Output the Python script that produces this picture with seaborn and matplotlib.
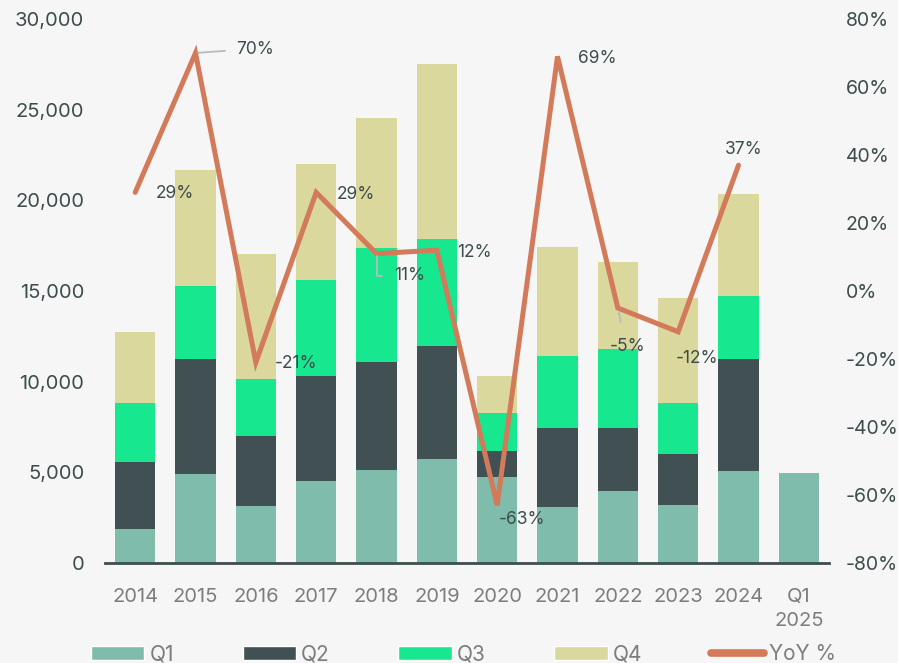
import numpy as np
import pandas as pd
import matplotlib
matplotlib.use("Agg")
import matplotlib.pyplot as plt
from matplotlib.patches import Patch
from matplotlib.lines import Line2D
from matplotlib.ticker import FuncFormatter, MultipleLocator
import seaborn as sns

# ---- data ----
categories = ["2014", "2015", "2016", "2017", "2018", "2019", "2020",
              "2021", "2022", "2023", "2024", "Q1\n2025"]
q1 = [1850, 4900, 3140, 4540, 5110, 5740, 4740, 3110, 3950, 3180, 5060, 4960]
q2 = [3740, 6340, 3850, 5790, 5980, 6210, 1440, 4360, 3510, 2810, 6200, np.nan]
q3 = [3240, 4040, 3160, 5300, 6290, 5920, 2080, 3970, 4320, 2810, 3490, np.nan]
q4 = [3930, 6370, 6900, 6400, 7150, 9640, 2080, 6010, 4820, 5810, 5590, np.nan]
yoy = [29, 70, -21, 29, 11, 12, -63, 69, -5, -12, 37]
yoy_labels = ["29%", "70%", "-21%", "29%", "11%", "12%", "-63%", "69%",
              "-5%", "-12%", "37%"]

# ---- style ----
sns.set_theme(style="white")
plt.rcParams["font.family"] = ["Inter", "DejaVu Sans"]

BG = "#f6f6f6"
C_Q1 = "#80bcac"
C_Q2 = "#415052"
C_Q3 = "#17e88f"
C_Q4 = "#dad89c"
C_LINE = "#d27a5a"
DARK_TXT = "#3d4c4c"
GRAY_TXT = "#7d7d7d"
LEADER = "#b4bcbc"
TICK_FS = 14.5

df = pd.DataFrame({"cat": categories, "Q1": q1, "Q2": q2, "Q3": q3, "Q4": q4})
df["c1"] = df["Q1"]
df["c2"] = df["c1"] + df["Q2"]
df["c3"] = df["c2"] + df["Q3"]
df["c4"] = df["c3"] + df["Q4"]

fig = plt.figure(figsize=(8.98, 6.63), dpi=100, facecolor=BG)
ax = fig.add_axes([105 / 898, 1 - 563 / 663, 724 / 898, 544 / 663])
ax.set_facecolor(BG)

# stacked columns: draw cumulative totals from the top segment down
for col, color in [("c4", C_Q4), ("c3", C_Q3), ("c2", C_Q2), ("c1", C_Q1)]:
    sns.barplot(data=df, x="cat", y=col, order=categories, color=color,
                saturation=1, width=0.67, errorbar=None, ax=ax,
                linewidth=0)

ax.set_xlim(-0.5, len(categories) - 0.5)
ax.set_ylim(0, 30000)
ax.yaxis.set_major_locator(MultipleLocator(5000))
ax.yaxis.set_major_formatter(FuncFormatter(lambda v, p: f"{v:,.0f}"))
ax.set_xlabel("")
ax.set_ylabel("")
for s in ["top", "left", "right"]:
    ax.spines[s].set_visible(False)
ax.spines["bottom"].set_color("#3f4d4f")
ax.spines["bottom"].set_linewidth(2)
ax.tick_params(axis="y", length=0, pad=15, labelsize=TICK_FS, labelcolor=DARK_TXT)
ax.tick_params(axis="x", length=0, pad=18, labelsize=TICK_FS, labelcolor=GRAY_TXT)
for t in ax.get_xticklabels():
    t.set_linespacing(1.45)

# YoY growth line on the secondary axis
ax2 = ax.twinx()
xs = np.arange(len(yoy))
sns.lineplot(x=xs, y=yoy, ax=ax2, color=C_LINE, linewidth=3.6, sort=False,
             solid_capstyle="round", solid_joinstyle="miter")
ax2.set_ylim(-80, 80)
ax2.yaxis.set_major_locator(MultipleLocator(20))
ax2.yaxis.set_major_formatter(FuncFormatter(lambda v, p: f"{v:.0f}%"))
ax2.set_xlabel("")
ax2.set_ylabel("")
for s in ["top", "left", "right", "bottom"]:
    ax2.spines[s].set_visible(False)
ax2.tick_params(axis="y", length=0, pad=12, labelsize=14, labelcolor=DARK_TXT)

# data labels (offsets in pixels from each point)
offsets = [(40, -1), (60, 3), (40, -1), (40, -2), (33, -22), (38, -2),
           (25, -14), (40, -2), (10, -39), (19, -27), (5, 16)]
for i, (val, lab, off) in enumerate(zip(yoy, yoy_labels, offsets)):
    kw = {}
    if i == 1:
        kw["arrowprops"] = dict(arrowstyle="-", color=LEADER, lw=1.3,
                                relpos=(0, 0.5), shrinkA=6, shrinkB=2,
                                connectionstyle="arc3,rad=0")
    elif i == 4:
        kw["arrowprops"] = dict(arrowstyle="-", color=LEADER, lw=1.3,
                                relpos=(0, 0.5), shrinkA=6, shrinkB=2,
                                connectionstyle="angle,angleA=0,angleB=90,rad=0")
    elif i == 8:
        kw["arrowprops"] = dict(arrowstyle="-", color=LEADER, lw=1.3,
                                relpos=(0.4, 1), shrinkA=10, shrinkB=3)
    ax2.annotate(lab, xy=(i, val), xytext=off, textcoords="offset pixels",
                 ha="center", va="center", fontsize=12.5, color=DARK_TXT, **kw)

# legend along the bottom
handles = [Patch(facecolor=C_Q1), Patch(facecolor=C_Q2), Patch(facecolor=C_Q3),
           Patch(facecolor=C_Q4),
           Line2D([0], [0], color=C_LINE, lw=5.5, solid_capstyle="round")]
labels = ["Q1", "Q2", "Q3", "Q4", "YoY %"]
fig.legend(handles, labels, ncol=5, loc="center left",
           bbox_to_anchor=(91 / 898, 1 - 654 / 663), frameon=False,
           fontsize=15, labelcolor=GRAY_TXT, handlelength=2.55,
           handleheight=0.65, handletextpad=0.25, columnspacing=3.3,
           borderpad=0, borderaxespad=0)

fig.savefig("out.png", dpi=100, facecolor=BG)
